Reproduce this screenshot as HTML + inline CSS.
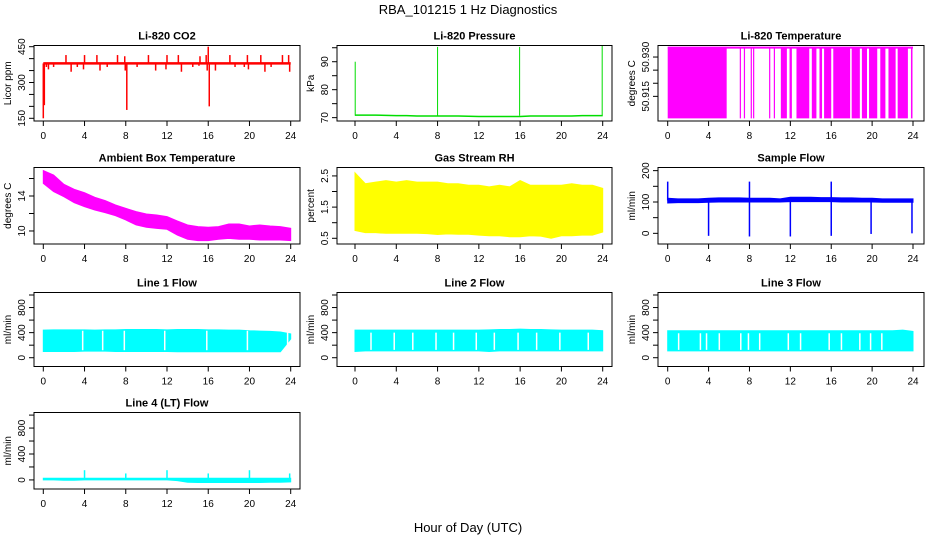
<!DOCTYPE html>
<html><head><meta charset="utf-8"><style>
body{margin:0;background:#fff;}
svg{display:block;font-family:"Liberation Sans",Arial,sans-serif;}
</style></head><body>
<svg id="chart" width="936" height="540" viewBox="0 0 936 540">
<text x="468" y="14" text-anchor="middle" font-size="13">RBA_101215  1 Hz Diagnostics</text>
<text x="468" y="532" text-anchor="middle" font-size="13">Hour of Day (UTC)</text>
</svg>
<script>
// ---- data ----
const hours = [0,1,2,3,4,5,6,7,8,9,10,11,12,13,14,15,16,17,18,19,20,21,22,23,24];
const xTicks = [0,4,8,12,16,20,24];
// CO2
const co2Base = 380;
const co2SpikeHours = [0,0.1,0.3,0.5,1,2.2,2.7,3.3,3.9,4,5.2,5.5,6.2,7.2,7.9,7.95,8.1,9.1,10.2,10.9,11.9,12,13.1,13.4,14.5,15.1,15.2,15.8,15.9,16,16.1,16.7,18.1,18.6,19.5,19.8,19.9,21.1,21.5,22.1,23.2,23.8,23.9];
const co2SpikeVals = [150,205,365,355,365,415,345,365,355,415,415,350,365,415,410,350,185,365,415,350,355,415,415,345,365,370,410,415,350,450,200,350,415,365,365,415,355,415,345,365,415,415,345];
// Pressure
const presBase = [70.9,70.9,70.9,70.8,70.7,70.7,70.6,70.6,70.6,70.6,70.6,70.5,70.4,70.4,70.4,70.4,70.4,70.6,70.6,70.6,70.6,70.6,70.7,70.7,70.7];
const presSpikeHours = [0.02,8,15.95,23.95];
const presSpikeVals = [90,95.3,95.3,95.8];
// Li-820 Temperature (blocks at upper/lower level)
const tempHigh = 50.9336, tempLow = 50.9066;
const tempBlockStart = [0,7.05,7.45,8.12,8.35,9.92,10.38,11.07,11.92,12.6,14.1,14.85,15.3,16.2,18.0,19.0,19.7,20.8,21.6,22.5,23.8];
const tempBlockEnd   = [5.77,7.1,7.5,8.17,8.42,9.97,10.44,11.66,12.15,13.85,14.55,15.1,16.0,17.85,18.8,19.5,20.5,21.3,22.3,23.5,23.95];
// Ambient box temperature
const ambUpper = [16.9,16.4,15.33,14.76,14.38,13.85,13.47,12.97,12.59,12.21,11.94,11.83,11.64,11.14,10.69,10.5,10.42,10.5,10.8,10.8,10.57,10.69,10.57,10.5,10.3];
const ambLower = [15.45,14.5,13.92,13.24,12.78,12.4,12.1,11.75,11.26,10.69,10.42,10.3,10.19,9.54,9.05,8.9,8.9,9.05,9.16,9.05,9.05,8.97,8.97,8.97,8.9];
// Gas stream RH
const rhUpper = [2.6,2.25,2.3,2.35,2.3,2.35,2.3,2.3,2.3,2.25,2.25,2.2,2.2,2.15,2.2,2.15,2.35,2.2,2.2,2.2,2.2,2.25,2.2,2.2,2.1];
const rhLower = [0.75,0.68,0.68,0.66,0.66,0.66,0.66,0.65,0.62,0.64,0.63,0.63,0.6,0.58,0.58,0.55,0.55,0.58,0.57,0.5,0.58,0.58,0.6,0.6,0.7];
// Sample flow
const sfUpper = [112,110,110,110,112,113,113,113,112,112,112,110,115,115,115,114,114,113,113,112,112,110,110,110,110];
const sfLower = [97,98,98,98,99,100,100,100,100,100,100,100,101,101,101,101,101,100,100,100,100,99,99,99,99];
const sfSpikeHours = [0,4,8,8,12,16,16,19.9,23.9];
const sfSpikeVals = [165,-8,165,-10,-10,165,-8,-2,0];
// Line flows
const l1Upper = [440,445,445,445,445,440,445,445,450,450,450,450,445,450,450,450,445,445,440,440,430,425,420,410,380];
const l1Lower = [100,100,100,100,105,105,105,100,100,100,100,100,100,95,95,95,95,95,95,95,95,95,95,95,300];
const l1Gaps = [3.82,5.76,7.86,11.78,15.86,19.8,23.7];
const l2Upper = [440,440,440,440,440,440,440,440,440,440,440,440,440,445,450,450,455,450,450,445,440,440,440,440,430];
const l2Lower = [100,110,110,110,110,110,110,110,110,110,110,110,110,100,110,110,110,110,110,110,110,110,110,110,110];
const l2Gaps = [1.55,3.8,5.6,7.85,9.55,11.75,13.5,15.8,17.6,19.85,22.6];
const l3Upper = [430,430,430,430,430,430,430,430,430,430,430,430,430,430,430,430,430,430,430,430,430,430,430,440,420];
const l3Lower = [110,110,110,110,110,110,110,110,110,110,110,110,110,110,110,110,110,110,110,110,110,110,110,110,110];
const l3Gaps = [1.07,3.2,3.8,5.05,7.15,7.9,9.0,11.8,13.0,15.8,17.0,18.8,19.85,20.95];
const l4Upper = [25,25,25,25,25,25,25,25,25,25,25,25,25,25,25,25,25,25,25,25,25,25,25,25,25];
const l4Lower = [0,0,-5,-5,0,0,0,0,0,0,0,0,0,-10,-35,-40,-40,-40,-40,-40,-40,-40,-35,-35,-30];
const l4SpikeHours = [4,8,12,16,20,23.9];
const l4SpikeVals = [150,100,150,100,150,100];

// ---- layout ----
const NS = "http://www.w3.org/2000/svg";
const svg = document.getElementById('chart');
const colBox = [[34,300],[337,612],[658,924]];
const colX = [[43.3,290.7],[355,602.7],[667.7,913]];
const rowBox = [[45.5,121],[167.5,244],[292.5,366.5],[412.5,489]];
function mk(tag, attrs, parent){const e=document.createElementNS(NS,tag);for(const k in attrs)e.setAttribute(k,attrs[k]);(parent||svg).appendChild(e);return e;}

function panel(name, title, ylab, col, row, ylim, yticks, ylabels, color){
  const g = mk('g',{});
  
  
  const [L,R] = colBox[col], [T,B] = rowBox[row], [x0,x1] = colX[col];
  const xs = h => x0 + (x1-x0)*h/24;
  const ys = v => B - (v-ylim[0])/(ylim[1]-ylim[0])*(B-T);
  const data = mk('g',{},g);
  
  
  const box = mk('rect',{x:L,y:T,width:R-L,height:B-T,fill:'none',stroke:'#000','stroke-width':1},g);
  
  
  const t = mk('text',{x:(L+R)/2,y:T-6,'text-anchor':'middle','font-size':11,'font-weight':'bold'},g);
  t.textContent = title;
  
  
  const yl = mk('text',{x:L-23,y:(T+B)/2,'text-anchor':'middle','font-size':10,transform:`rotate(-90 ${L-23} ${(T+B)/2})`},g);
  yl.textContent = ylab;
  
  
  const xa = mk('g',{},g);
  
  
  mk('line',{x1:xs(0),x2:xs(24),y1:B,y2:B,stroke:'#000'},xa);
  xTicks.forEach(h=>{
    mk('line',{x1:xs(h),x2:xs(h),y1:B,y2:B+5,stroke:'#000'},xa);
    const tx = mk('text',{x:xs(h),y:B+18,'text-anchor':'middle','font-size':10},xa);
    tx.textContent = h;
    
    
  });
  const ya = mk('g',{},g);
  
  
  yticks.forEach(v=>mk('line',{x1:L-5,x2:L,y1:ys(v),y2:ys(v),stroke:'#000'},ya));
  ylabels.forEach(v=>{
    const y=ys(v), x=L-9;
    const tx = mk('text',{x:x,y:y,'text-anchor':'middle','font-size':10,transform:`rotate(-90 ${x} ${y})`},ya);
    tx.textContent = v;
    
    
  });
  return {xs, ys, data, color};
}
function band(p, up, lo){
  let d = hours.map((h,i)=>(i?'L':'M')+p.xs(h)+','+p.ys(up[i])).join('');
  for(let i=hours.length-1;i>=0;i--) d += 'L'+p.xs(hours[i])+','+p.ys(lo[i]);
  const e = mk('path',{d:d+'Z',fill:p.color,stroke:p.color,'stroke-width':1},p.data);
  
  
}
function spikes(p, base, hs, vs, w){
  hs.forEach((h,i)=>{
    const e = mk('line',{x1:p.xs(h),x2:p.xs(h),y1:p.ys(base),y2:p.ys(vs[i]),stroke:p.color,'stroke-width':w||1.5},p.data);
    
    
  });
}
function gaps(p, gs, lo, hi){
  gs.forEach(h=>{
    const e = mk('line',{x1:p.xs(h),x2:p.xs(h),y1:p.ys(lo),y2:p.ys(hi),stroke:'#fff','stroke-width':1.5},p.data);
    
    
  });
}

let p = panel('co2-panel','Li-820 CO2','Licor ppm',0,0,[138.7,455],[150,200,250,300,350,400,450],[150,300,450],'#ff0000');
spikes(p, co2Base, co2SpikeHours, co2SpikeVals, 1.5);
mk('line',{x1:p.xs(0),x2:p.xs(24),y1:p.ys(co2Base),y2:p.ys(co2Base),stroke:'#ff0000','stroke-width':2.5},p.data);
p = panel('pressure-panel','Li-820 Pressure','kPa',1,0,[68.8,95.8],[70,75,80,85,90,95],[70,80,90],'#00dd00');
{ const d = hours.map((h,i)=>(i?'L':'M')+p.xs(h)+','+p.ys(presBase[i])).join('');
  const e = mk('path',{d:d,fill:'none',stroke:'#00dd00','stroke-width':1.5},p.data);
    }
spikes(p, 70.7, presSpikeHours, presSpikeVals, 1);
p = panel('li820-temp-panel','Li-820 Temperature','degrees C',2,0,[50.9056,50.9344],[50.915,50.92,50.925,50.93],[50.915,'50.930'],'#ff00ff');
mk('line',{x1:p.xs(0),x2:p.xs(24),y1:p.ys(tempHigh),y2:p.ys(tempHigh),stroke:'#ff00ff','stroke-width':2},p.data);
tempBlockStart.forEach((s,i)=>{
  const e = mk('rect',{x:p.xs(s),y:p.ys(tempHigh),width:Math.max(1.2,p.xs(tempBlockEnd[i])-p.xs(s)),height:p.ys(tempLow)-p.ys(tempHigh),fill:'#ff00ff'},p.data);
   
});
p = panel('ambient-temp-panel','Ambient Box Temperature','degrees C',0,1,[8.51,17.26],[10,12,14,16],[10,14],'#ff00ff');
band(p, ambUpper, ambLower);
p = panel('gas-rh-panel','Gas Stream RH','percent',1,1,[0.317,2.77],[0.5,1,1.5,2,2.5],[0.5,1.5,2.5],'#ffff00');
band(p, rhUpper, rhLower);
p = panel('sample-flow-panel','Sample Flow','ml/min',2,1,[-34,210],[0,50,100,150,200],[0,100,200],'#0000ff');
band(p, sfUpper, sfLower);
spikes(p, 105, sfSpikeHours, sfSpikeVals, 1.5);
const fl = [-140,1040], ft=[0,200,400,600,800,1000], fls=[0,400,800];
p = panel('line1-flow-panel','Line 1 Flow','ml/min',0,2,fl,ft,fls,'#00ffff');
band(p, l1Upper, l1Lower); gaps(p, l1Gaps, 120, 430);
p = panel('line2-flow-panel','Line 2 Flow','ml/min',1,2,fl,ft,fls,'#00ffff');
band(p, l2Upper, l2Lower); gaps(p, l2Gaps, 125, 400);
p = panel('line3-flow-panel','Line 3 Flow','ml/min',2,2,fl,ft,fls,'#00ffff');
band(p, l3Upper, l3Lower); gaps(p, l3Gaps, 125, 390);
p = panel('line4-flow-panel','Line 4 (LT) Flow','ml/min',0,3,fl,ft,fls,'#00ffff');
band(p, l4Upper, l4Lower);
spikes(p, 10, l4SpikeHours, l4SpikeVals, 1.5);
</script>
</body></html>
